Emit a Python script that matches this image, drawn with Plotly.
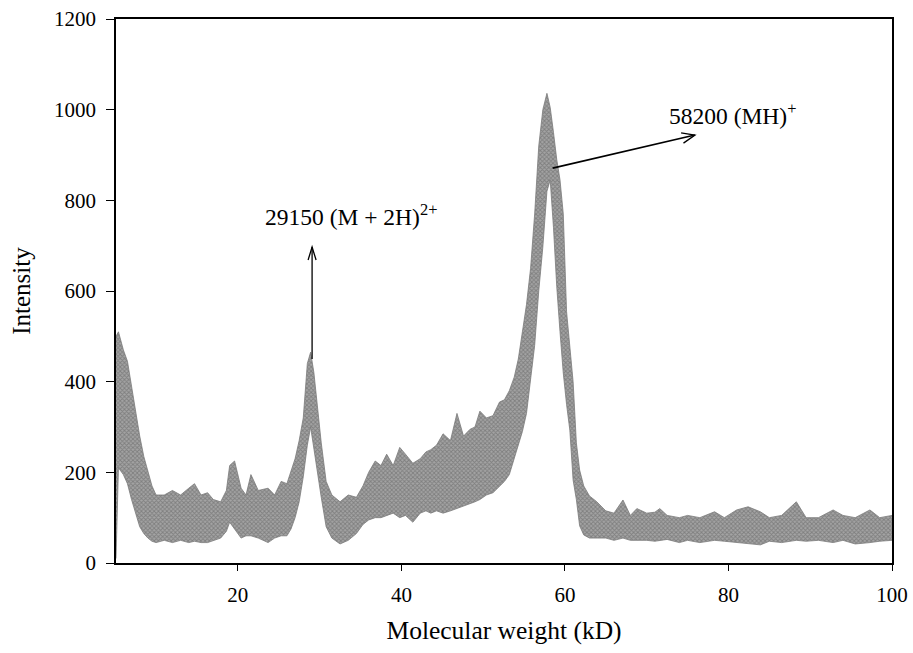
import math
import plotly.graph_objects as go

# Molecular weight (kD) sample positions
mw_kd = [5.1, 5.4, 6.0, 6.5, 7.0, 7.5, 8.0, 8.5, 9.0, 9.5,
         10, 11, 12, 13, 14, 14.7, 15.5, 16.3, 17, 17.9,
         18.6, 19.0, 19.6, 20.4, 21, 21.6, 22.5, 23.7, 24.5, 25.3,
         26, 26.5, 27.0, 27.5, 28.0, 28.5, 28.9, 29.3, 29.8, 30.2,
         30.8, 31.5, 32.5, 33.5, 34.5, 35.3, 36.0, 36.8, 37.5, 38.2,
         39.0, 39.8, 40.5, 41.4, 42.3, 43.0, 43.6, 44.3, 45.1, 46.0,
         46.8, 47.6, 48.4, 49.0, 49.6, 50.4, 51.2, 52.0, 52.6, 53.2,
         53.8, 54.3, 54.8, 55.3, 55.8, 56.3, 56.8, 57.3, 57.8, 58.2,
         58.6, 59.0, 59.4, 59.8, 60.2, 60.6, 61.0, 61.4, 61.8, 62.3,
         63.0, 63.9, 65, 66, 67.1, 68, 68.8, 70, 71, 71.6,
         72.5, 74, 75, 76.5, 78.3, 79.5, 81.0, 82.4, 83.9, 85,
         86.5, 88.3, 89.5, 91, 92.8, 94, 95.5, 97.3, 98.5, 100]

# Upper edge of the scattered intensity band
intensity_upper = [500, 510, 470, 445, 390, 330, 280, 235, 200, 170,
                   150, 150, 160, 150, 165, 175, 150, 155, 140, 135,
                   160, 215, 225, 165, 150, 195, 160, 165, 150, 180,
                   175, 205, 230, 270, 320, 440, 465, 420, 330, 265,
                   180, 150, 135, 150, 145, 170, 200, 225, 215, 240,
                   215, 255, 240, 220, 230, 245, 250, 260, 285, 270,
                   330, 280, 295, 300, 335, 320, 325, 355, 360, 380,
                   410, 450, 510, 570, 650, 770, 920, 1000, 1036, 1005,
                   950, 890, 845, 770, 555, 476, 400, 265, 205, 170,
                   148, 135, 115, 110, 139, 105, 120, 110, 112, 120,
                   105, 100, 105, 100, 113, 100, 117, 124, 113, 100,
                   105, 135, 100, 100, 117, 105, 100, 117, 100, 105]

# Lower edge of the scattered intensity band
intensity_lower = [10, 210, 195, 175, 140, 110, 80, 65, 55, 48,
                   45, 50, 45, 50, 45, 48, 45, 45, 50, 55,
                   70, 90, 75, 55, 60, 60, 55, 45, 55, 60,
                   60, 75, 100, 135, 190, 260, 300, 250, 190, 145,
                   80, 55, 42, 50, 65, 85, 95, 100, 100, 105,
                   110, 100, 105, 90, 110, 115, 110, 115, 110, 115,
                   120, 125, 130, 135, 140, 150, 155, 170, 180, 195,
                   230, 260, 290, 330, 400, 480, 600, 697, 820, 845,
                   740, 610, 510, 419, 350, 293, 183, 140, 82, 62,
                   55, 55, 55, 50, 55, 50, 50, 50, 48, 50,
                   52, 45, 50, 45, 50, 48, 45, 42, 40, 48,
                   45, 50, 48, 50, 45, 50, 42, 45, 48, 50]

x_ticks = [20, 40, 60, 80, 100]
y_ticks = [0, 200, 400, 600, 800, 1000, 1200]

peak1_label = "29150 (M + 2H)<sup>2+</sup>"
peak2_label = "58200 (MH)<sup>+</sup>"

FONT = "Liberation Serif, Times New Roman, serif"

fig = go.Figure()
fig.add_trace(go.Scatter(x=mw_kd, y=intensity_lower, mode="lines",
                         line=dict(color="#7a7a7a", width=0.8),
                         hoverinfo="skip", showlegend=False))
fig.add_trace(go.Scatter(x=mw_kd, y=intensity_upper, mode="lines",
                         line=dict(color="#7a7a7a", width=0.8),
                         fill="tonexty", fillcolor="#8c8c8c",
                         fillpattern=dict(shape="x", size=3, solidity=0.5,
                                          fgcolor="#5a5a5a", bgcolor="#a4a4a4"),
                         showlegend=False))

# pixel -> data scale helpers for arrowheads
XR = (5.1, 100.0)
YR = (0, 1200)
PW, PH = 892 - 116, 563 - 19
kx = (XR[1] - XR[0]) / PW
ky = (YR[1] - YR[0]) / PH

shapes = []
line_style = dict(color="black", width=1.3)
# vertical arrow for 29150 peak
ax1, ay_tail, ay_tip = 29.08, 450, 697
shapes.append(dict(type="line", xref="x", yref="y", x0=ax1, y0=ay_tail, x1=ax1, y1=ay_tip, line=line_style))
shapes.append(dict(type="path", xref="x", yref="y",
                   path=f"M {ax1 - 4*kx} {ay_tip - 13*ky} L {ax1} {ay_tip} L {ax1 + 4*kx} {ay_tip - 13*ky}",
                   line=line_style))
# diagonal arrow for 58200 peak
tx, ty = 58.5, 871
hx, hy = 75.9, 944
shapes.append(dict(type="line", xref="x", yref="y", x0=tx, y0=ty, x1=hx, y1=hy,
                   line=dict(color="black", width=1.6)))
dxp, dyp = (hx - tx) / kx, (hy - ty) / ky
L = math.hypot(dxp, dyp)
ux, uy = dxp / L, dyp / L
arm = 14
ang = math.radians(22)
pts = []
for s in (1, -1):
    c, sn = math.cos(s * ang), math.sin(s * ang)
    bx = -(ux * c - uy * sn) * arm
    by = -(ux * sn + uy * c) * arm
    pts.append((hx + bx * kx, hy + by * ky))
shapes.append(dict(type="path", xref="x", yref="y",
                   path=f"M {pts[0][0]} {pts[0][1]} L {hx} {hy} L {pts[1][0]} {pts[1][1]}",
                   line=line_style))

fig.update_layout(
    width=913, height=653,
    margin=dict(l=116, r=21, t=19, b=90),
    paper_bgcolor="white", plot_bgcolor="white",
    font=dict(family=FONT, size=21, color="black"),
    shapes=shapes,
    annotations=[
        dict(x=23.06, y=768, xref="x", yref="y", text=peak1_label, showarrow=False,
             xanchor="left", yanchor="middle", font=dict(size=23.5)),
        dict(x=72.5, y=990, xref="x", yref="y", text=peak2_label, showarrow=False,
             xanchor="left", yanchor="middle", font=dict(size=23.5)),
    ],
    xaxis=dict(range=list(XR), tickvals=x_ticks, ticks="outside", ticklen=6,
               tickwidth=1.3, tickcolor="black", showline=True, linecolor="black",
               linewidth=1.6, mirror=True, showgrid=False, zeroline=False,
               ticklabelstandoff=6, automargin=False,
               title=dict(text="Molecular weight (kD)", font=dict(size=25.5), standoff=15)),
    yaxis=dict(range=list(YR), tickvals=y_ticks, ticks="outside", ticklen=8,
               tickwidth=1.3, tickcolor="black", showline=True, linecolor="black",
               linewidth=1.6, mirror=True, showgrid=False, zeroline=False,
               ticklabelstandoff=6, automargin=False,
               title=dict(text="Intensity", font=dict(size=25), standoff=16)),
)

fig.write_html("out.html")
